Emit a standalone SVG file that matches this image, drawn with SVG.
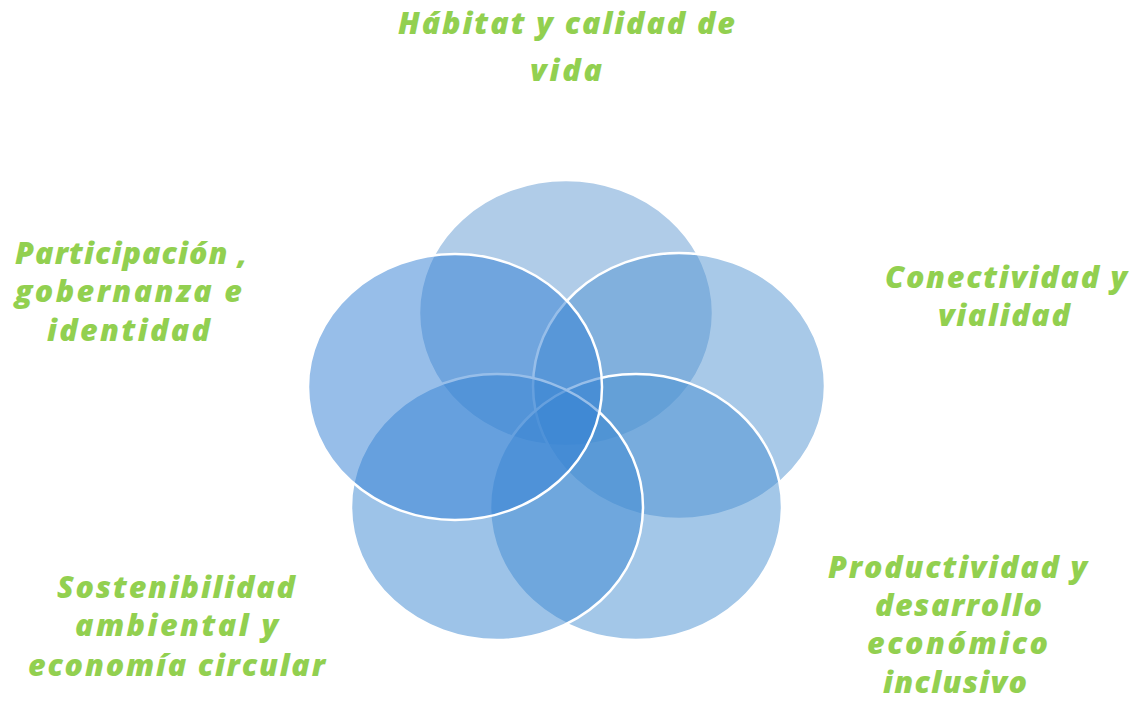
<svg xmlns="http://www.w3.org/2000/svg" width="1132" height="704" viewBox="0 0 1132 704">
<style>
.c{fill-opacity:0.5;stroke:#FFFFFF;stroke-width:2.5}
.t{font-family:"Open Sans",Lato,"Liberation Sans",sans-serif;font-weight:800;font-style:italic;font-size:30.5px;fill:#92D050;text-anchor:middle}
</style>
<rect width="1132" height="704" fill="#FFFFFF"/>
<g id="circles">
<g id="n-top"><ellipse class="c" cx="566" cy="313" rx="147" ry="133" fill="#6199D1"/></g>
<g id="n-right"><ellipse class="c" cx="679" cy="386" rx="146" ry="133" fill="#5194D2"/></g>
<g id="n-bottom-right"><ellipse class="c" cx="636" cy="507" rx="146" ry="133" fill="#4790D2"/></g>
<g id="n-bottom-left"><ellipse class="c" cx="497" cy="507" rx="146" ry="133" fill="#3B88D2"/></g>
<g id="n-left"><ellipse class="c" cx="455" cy="387" rx="147" ry="133" fill="#2F7ED3"/></g>
</g>
<g id="connectors"/>
<g id="label-top">
<text class="t" x="566.5" y="34" textLength="337" lengthAdjust="spacing">Hábitat y calidad de</text>
<text class="t" x="566" y="81" textLength="72" lengthAdjust="spacing">vida</text>
</g>
<g id="label-left">
<text class="t" x="131" y="264" textLength="232" lengthAdjust="spacing">Participación ,</text>
<text class="t" x="128.5" y="302" textLength="227" lengthAdjust="spacing">gobernanza e</text>
<text class="t" x="128.5" y="341" textLength="163" lengthAdjust="spacing">identidad</text>
</g>
<g id="label-right">
<text class="t" x="1006" y="288" textLength="242" lengthAdjust="spacing">Conectividad y</text>
<text class="t" x="1004" y="326" textLength="132" lengthAdjust="spacing">vialidad</text>
</g>
<g id="label-bottom-right">
<text class="t" x="957.5" y="578" textLength="259" lengthAdjust="spacing">Productividad y</text>
<text class="t" x="958.5" y="616" textLength="167" lengthAdjust="spacing">desarrollo</text>
<text class="t" x="957.5" y="654" textLength="181" lengthAdjust="spacing">económico</text>
<text class="t" x="955" y="693" textLength="144" lengthAdjust="spacing">inclusivo</text>
</g>
<g id="label-bottom-left">
<text class="t" x="176" y="598" textLength="238" lengthAdjust="spacing">Sostenibilidad</text>
<text class="t" x="176.5" y="636" textLength="203" lengthAdjust="spacing">ambiental y</text>
<text class="t" x="176.5" y="676" textLength="297" lengthAdjust="spacing">economía circular</text>
</g>
</svg>
